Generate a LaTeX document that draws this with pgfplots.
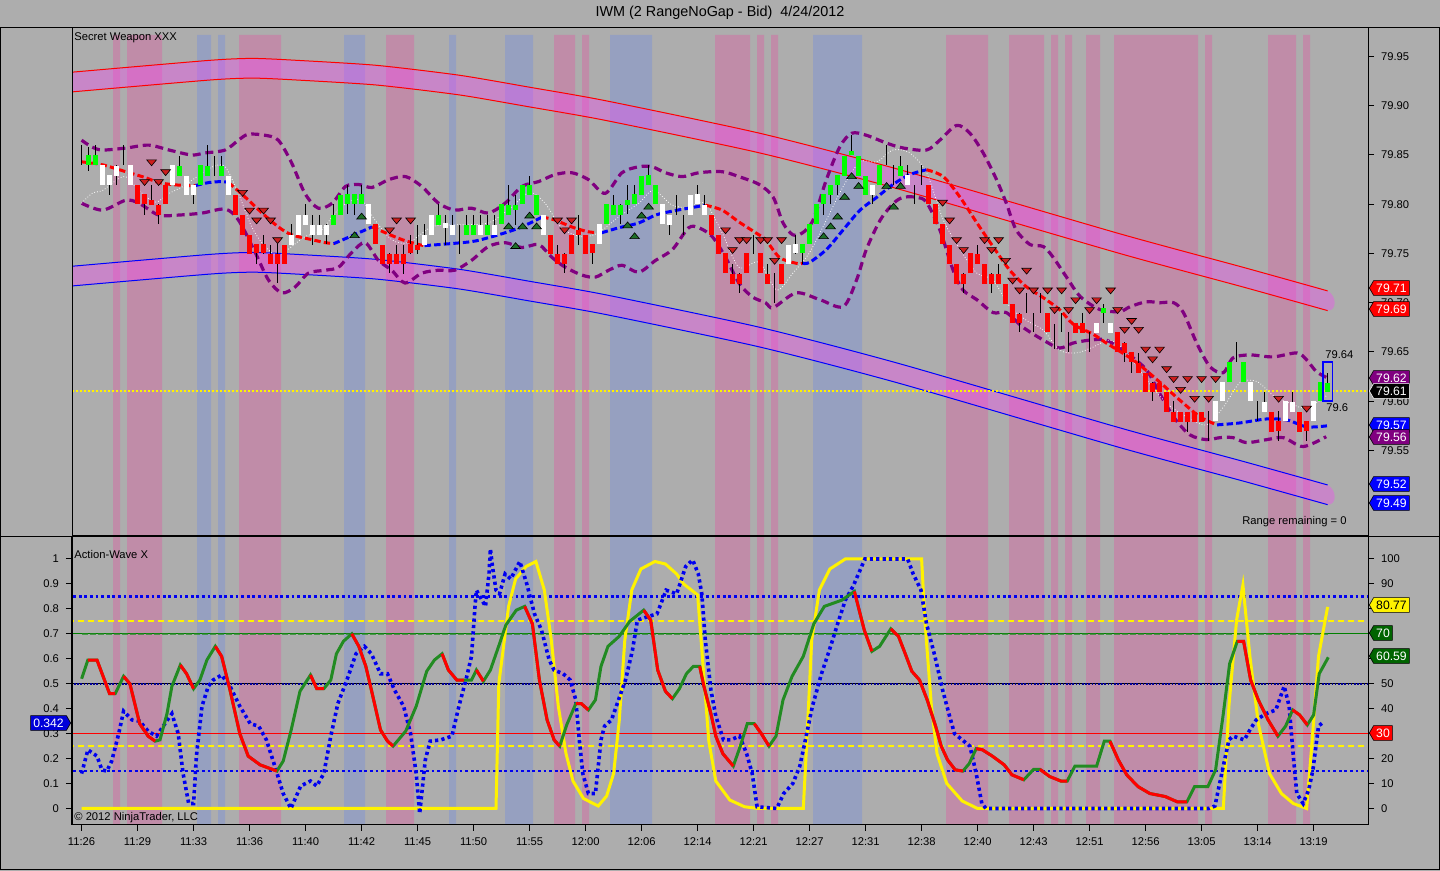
\documentclass[border=0pt]{standalone}
\usepackage{fontspec}
\setmainfont{Liberation Sans}
\usepackage{pgfplots}
\pgfplotsset{compat=1.18}
\usepackage{pgfplotstable}
\usetikzlibrary{shapes.symbols}
\newcommand{\fs}{\fontsize{5.6}{6.5}\selectfont}
\definecolor{bggray}{RGB}{173,173,173}
\definecolor{pinkband}{RGB}{192,140,168}
\definecolor{blueband}{RGB}{150,160,192}
\definecolor{chfill}{RGB}{255,60,255}
\definecolor{pgreen}{RGB}{0,255,0}
\definecolor{envpurple}{RGB}{128,0,128}
\definecolor{trired}{RGB}{205,30,30}
\definecolor{trigreen}{RGB}{30,110,40}
\definecolor{oscgreen}{RGB}{34,139,34}
\definecolor{taggreen}{RGB}{0,100,0}
\definecolor{oscblue}{RGB}{0,0,240}

\pgfplotstableread{
x y
4.5 0
4.5 1
5.5 0
6.5 1
11.5 0
22.5 1
28.5 0
43.5 1
47.5 0
67.5 1
70.5 0
71.5 1
72.5 0
90.5 1
95.5 0
96.5 1
97.5 0
98.5 1
99.5 0
123.5 1
129.5 0
132.5 1
137.5 0
138.5 1
139.5 0
140.5 1
141.5 0
143.5 1
145.5 0
147.5 1
159.5 0
160.5 1
161.5 0
169.5 1
173.5 0
174.5 1
175.5 0
}\pinkbands

\pgfplotstableread{
x y
16.5 0
16.5 1
18.5 0
19.5 1
20.5 0
37.5 1
40.5 0
52.5 1
53.5 0
60.5 1
64.5 0
75.5 1
81.5 0
104.5 1
111.5 0
}\bluebands

% channel edges: index, top edge, bottom edge
\pgfplotstableread{
i t b
-1.4 79.934 79.914
18.2 79.946 79.926
24.5 79.948 79.928
30.9 79.946 79.926
42.1 79.941 79.921
53.9 79.931 79.911
63.8 79.919 79.899
74.9 79.905 79.885
96.9 79.872 79.852
116.9 79.835 79.815
148.3 79.770 79.750
165.9 79.736 79.716
178 79.712 79.692
}\uch
\pgfplotstableread{
i t b
-1.4 79.737 79.717
18.2 79.749 79.729
24.5 79.751 79.731
30.9 79.749 79.729
42.1 79.744 79.724
53.9 79.734 79.714
63.8 79.722 79.702
74.9 79.708 79.688
96.9 79.675 79.655
116.9 79.638 79.618
148.3 79.573 79.553
165.9 79.539 79.519
178 79.515 79.495
}\lch

\pgfplotstableread{
i L H B T c
0 79.84 79.86 79.85 79.85 1
1 79.835 79.86 79.84 79.85 0
2 79.84 79.86 79.84 79.85 0
3 79.82 79.84 79.82 79.84 1
4 79.81 79.83 79.82 79.83 1
5 79.82 79.84 79.83 79.84 1
6 79.84 79.86 79.845 79.845 1
7 79.82 79.84 79.82 79.84 1
8 79.80 79.82 79.80 79.82 2
9 79.79 79.81 79.80 79.81 2
10 79.80 79.82 79.80 79.805 2
11 79.78 79.80 79.79 79.80 2
12 79.80 79.82 79.80 79.82 2
13 79.82 79.84 79.82 79.84 1
14 79.83 79.85 79.83 79.84 0
15 79.81 79.83 79.81 79.83 1
16 79.80 79.82 79.81 79.82 1
17 79.82 79.84 79.82 79.84 0
18 79.83 79.86 79.83 79.84 0
19 79.83 79.85 79.835 79.835 0
20 79.83 79.85 79.83 79.84 0
21 79.81 79.83 79.81 79.83 1
22 79.79 79.81 79.79 79.81 2
23 79.77 79.79 79.77 79.79 2
24 79.75 79.77 79.75 79.77 2
25 79.74 79.76 79.75 79.76 2
26 79.75 79.77 79.75 79.76 2
27 79.74 79.76 79.74 79.75 2
28 79.72 79.76 79.74 79.75 2
29 79.74 79.76 79.74 79.76 2
30 79.76 79.78 79.76 79.77 1
31 79.77 79.79 79.77 79.79 1
32 79.78 79.80 79.78 79.79 1
33 79.76 79.79 79.77 79.78 1
34 79.77 79.79 79.77 79.78 1
35 79.76 79.78 79.77 79.78 1
36 79.78 79.80 79.78 79.79 0
37 79.79 79.81 79.79 79.81 0
38 79.79 79.82 79.80 79.81 0
39 79.79 79.81 79.80 79.81 0
40 79.80 79.82 79.80 79.81 0
41 79.78 79.80 79.78 79.80 1
42 79.76 79.78 79.76 79.78 2
43 79.74 79.76 79.74 79.76 2
44 79.73 79.75 79.74 79.75 2
45 79.74 79.76 79.74 79.75 2
46 79.73 79.76 79.74 79.75 2
47 79.75 79.77 79.75 79.76 2
48 79.75 79.78 79.755 79.76 2
49 79.76 79.78 79.76 79.77 1
50 79.77 79.79 79.77 79.79 1
51 79.78 79.80 79.78 79.79 0
52 79.76 79.79 79.775 79.78 1
53 79.77 79.79 79.77 79.78 1
54 79.75 79.78 79.77 79.77 1
55 79.77 79.79 79.77 79.78 0
56 79.77 79.79 79.77 79.78 0
57 79.77 79.79 79.77 79.78 1
58 79.77 79.79 79.77 79.78 0
59 79.77 79.79 79.77 79.78 1
60 79.78 79.80 79.78 79.80 0
61 79.79 79.82 79.79 79.80 0
62 79.78 79.81 79.795 79.80 0
63 79.80 79.82 79.80 79.82 0
64 79.81 79.83 79.81 79.82 0
65 79.79 79.81 79.79 79.81 0
66 79.77 79.79 79.77 79.79 1
67 79.75 79.77 79.75 79.77 2
68 79.74 79.76 79.74 79.75 2
69 79.73 79.75 79.74 79.75 2
70 79.75 79.77 79.75 79.77 2
71 79.76 79.79 79.77 79.775 2
72 79.75 79.77 79.75 79.77 2
73 79.74 79.76 79.75 79.76 2
74 79.76 79.78 79.76 79.78 1
75 79.78 79.80 79.78 79.80 0
76 79.79 79.81 79.79 79.80 0
77 79.78 79.80 79.79 79.80 0
78 79.79 79.82 79.80 79.805 0
79 79.80 79.82 79.80 79.81 0
80 79.81 79.83 79.81 79.83 0
81 79.82 79.84 79.82 79.83 0
82 79.80 79.82 79.80 79.82 0
83 79.78 79.80 79.78 79.80 1
84 79.77 79.79 79.78 79.79 1
85 79.79 79.81 79.80 79.80 1
86 79.77 79.79 79.78 79.78 1
87 79.79 79.81 79.79 79.81 1
88 79.80 79.82 79.80 79.81 1
89 79.79 79.81 79.79 79.80 1
90 79.77 79.79 79.77 79.79 2
91 79.75 79.77 79.75 79.77 2
92 79.73 79.75 79.73 79.75 2
93 79.72 79.74 79.72 79.73 2
94 79.71 79.73 79.72 79.73 2
95 79.73 79.75 79.73 79.75 2
96 79.75 79.77 79.76 79.76 2
97 79.73 79.75 79.73 79.75 2
98 79.72 79.74 79.72 79.73 2
99 79.70 79.73 79.72 79.72 2
100 79.72 79.74 79.72 79.74 2
101 79.74 79.76 79.74 79.76 1
102 79.75 79.77 79.75 79.76 1
103 79.74 79.76 79.75 79.76 0
104 79.76 79.78 79.76 79.78 0
105 79.78 79.80 79.78 79.80 0
106 79.79 79.81 79.80 79.81 0
107 79.80 79.82 79.81 79.82 0
108 79.81 79.83 79.82 79.83 0
109 79.83 79.85 79.83 79.85 0
110 79.85 79.87 79.85 79.855 0
111 79.83 79.85 79.83 79.85 0
112 79.81 79.83 79.81 79.83 0
113 79.80 79.82 79.81 79.82 1
114 79.82 79.84 79.82 79.84 0
115 79.84 79.86 79.845 79.845 0
116 79.82 79.84 79.83 79.83 0
117 79.83 79.85 79.83 79.84 0
118 79.82 79.84 79.82 79.83 1
119 79.80 79.82 79.81 79.81 1
120 79.82 79.84 79.83 79.83 1
121 79.80 79.82 79.80 79.82 2
122 79.78 79.80 79.78 79.80 2
123 79.76 79.78 79.76 79.78 2
124 79.74 79.76 79.74 79.76 2
125 79.72 79.74 79.72 79.74 2
126 79.71 79.73 79.72 79.73 2
127 79.73 79.75 79.73 79.75 2
128 79.74 79.76 79.74 79.75 2
129 79.72 79.74 79.72 79.74 2
130 79.71 79.73 79.72 79.73 2
131 79.72 79.74 79.72 79.73 2
132 79.70 79.72 79.70 79.72 2
133 79.68 79.70 79.68 79.70 2
134 79.67 79.69 79.68 79.69 2
135 79.69 79.71 79.70 79.70 2
136 79.67 79.69 79.68 79.68 2
137 79.69 79.71 79.70 79.70 2
138 79.67 79.69 79.67 79.69 2
139 79.655 79.68 79.665 79.665 2
140 79.67 79.69 79.68 79.68 2
141 79.65 79.67 79.66 79.66 2
142 79.67 79.68 79.67 79.68 2
143 79.67 79.69 79.67 79.68 2
144 79.65 79.67 79.66 79.66 2
145 79.67 79.68 79.67 79.68 1
146 79.68 79.70 79.69 79.695 0
147 79.67 79.68 79.67 79.68 1
148 79.65 79.67 79.65 79.67 2
149 79.64 79.66 79.65 79.66 2
150 79.63 79.65 79.64 79.65 2
151 79.63 79.65 79.63 79.64 2
152 79.61 79.63 79.61 79.63 2
153 79.60 79.62 79.61 79.62 2
154 79.61 79.62 79.61 79.62 2
155 79.59 79.61 79.59 79.61 2
156 79.58 79.60 79.58 79.59 2
157 79.58 79.59 79.58 79.59 2
158 79.57 79.59 79.58 79.59 2
159 79.58 79.59 79.58 79.59 2
160 79.58 79.59 79.58 79.59 2
161 79.56 79.59 79.575 79.575 2
162 79.58 79.60 79.58 79.60 1
163 79.60 79.62 79.60 79.62 1
164 79.62 79.64 79.62 79.64 0
165 79.64 79.66 79.645 79.645 0
166 79.62 79.64 79.62 79.64 0
167 79.60 79.62 79.60 79.62 1
168 79.58 79.60 79.59 79.59 1
169 79.59 79.61 79.59 79.60 1
170 79.57 79.59 79.57 79.59 2
171 79.56 79.59 79.57 79.58 2
172 79.58 79.60 79.58 79.60 1
173 79.59 79.61 79.59 79.60 1
174 79.57 79.59 79.57 79.59 2
175 79.56 79.58 79.57 79.58 2
176 79.58 79.60 79.58 79.60 1
177 79.60 79.62 79.60 79.62 0
178 79.61 79.63 79.61 79.62 0
}\bars

\pgfplotstableread{
i p
9 79.823
10 79.843
11 79.823
12 79.833
23 79.812
24 79.794
25 79.784
26 79.794
27 79.784
28 79.764
44 79.774
45 79.784
47 79.784
68 79.784
69 79.774
70 79.784
92 79.774
93 79.754
94 79.764
95 79.764
97 79.764
98 79.764
99 79.743
100 79.764
123 79.802
124 79.784
125 79.764
126 79.754
129 79.764
130 79.754
131 79.764
132 79.743
133 79.723
134 79.713
135 79.733
136 79.713
138 79.713
139 79.693
140 79.713
141 79.693
142 79.703
144 79.693
145 79.703
147 79.713
148 79.693
149 79.673
150 79.682
151 79.673
152 79.653
153 79.643
154 79.653
155 79.633
156 79.623
157 79.612
158 79.623
159 79.603
160 79.623
161 79.603
162 79.623
171 79.603
175 79.593
}\redtri

\pgfplotstableread{
i p
39 79.768
40 79.787
61 79.777
62 79.757
63 79.777
64 79.788
65 79.777
78 79.778
79 79.767
80 79.788
81 79.797
106 79.767
107 79.777
108 79.787
109 79.807
110 79.828
111 79.818
115 79.818
116 79.797
117 79.818
}\greentri

\tikzset{
  ma red/.style={red, line width=1.5pt, dash pattern=on 3.2pt off 1.6pt, smooth, tension=0.5},
  ma blue/.style={blue, line width=1.5pt, dash pattern=on 3.2pt off 1.6pt, smooth, tension=0.5},
  env/.style={envpurple, line width=1.6pt, dash pattern=on 4pt off 2.4pt, smooth, tension=0.5},
  oscred/.style={red, line width=1.5pt},
  tag/.style={signal, signal to=west, signal pointer angle=120, draw=black, line width=0.3pt,
    inner xsep=1.3pt, inner ysep=0.8pt, minimum height=7.4pt, font=\fontsize{6.1}{6.1}\selectfont, anchor=west},
}

\begin{document}
\begin{tikzpicture}
\fill[bggray] (0,0) rectangle (720pt,435.5pt);

\begin{axis}[
  at={(36pt,167.5pt)}, anchor=south west, scale only axis,
  width=648pt, height=254pt,
  xmin=-1.371, xmax=183.77, ymin=79.4632, ymax=79.9789,
  xtick=\empty,
  ytick={79.55,79.6,79.65,79.7,79.75,79.8,79.85,79.9,79.95},
  yticklabels={79.55,79.60,79.65,79.70,79.75,79.80,79.85,79.90,79.95},
  ytick pos=right, yticklabel pos=right,
  tick align=outside, major tick length=3pt,
  tick style={black, line width=0.5pt},
  axis line style={black, line width=0.5pt},
  tick label style={font=\fs, black},
  axis on top,
]
\addplot[const plot, fill=pinkband, draw=none] table[x=x, y expr=79.40+0.572*\thisrow{y}] {\pinkbands} -- cycle;
\addplot[const plot, fill=blueband, draw=none] table[x=x, y expr=79.40+0.572*\thisrow{y}] {\bluebands} -- cycle;

% regression channels: filled polygons, then edges
\addplot[fill=chfill, fill opacity=0.34, draw=none, smooth, tension=0.4] coordinates {(-1.4,79.934) (18.2,79.946) (24.5,79.948) (30.9,79.946) (42.1,79.941) (53.9,79.931) (63.8,79.919) (74.9,79.905) (96.9,79.872) (116.9,79.835) (148.3,79.770) (165.9,79.736) (178,79.712) (178,79.692) (165.9,79.716) (148.3,79.750) (116.9,79.815) (96.9,79.852) (74.9,79.885) (63.8,79.899) (53.9,79.911) (42.1,79.921) (30.9,79.926) (24.5,79.928) (18.2,79.926) (-1.4,79.914)} -- cycle;
\addplot[fill=chfill, fill opacity=0.34, draw=none, smooth, tension=0.4] coordinates {(-1.4,79.737) (18.2,79.749) (24.5,79.751) (30.9,79.749) (42.1,79.744) (53.9,79.734) (63.8,79.722) (74.9,79.708) (96.9,79.675) (116.9,79.638) (148.3,79.573) (165.9,79.539) (178,79.515) (178,79.495) (165.9,79.519) (148.3,79.553) (116.9,79.618) (96.9,79.655) (74.9,79.688) (63.8,79.702) (53.9,79.714) (42.1,79.724) (30.9,79.729) (24.5,79.731) (18.2,79.729) (-1.4,79.717)} -- cycle;
\addplot[red, line width=0.5pt, smooth, tension=0.4] table[x=i, y=t] {\uch};
\addplot[red, line width=0.5pt, smooth, tension=0.4] table[x=i, y=b] {\uch};
\addplot[blue, line width=0.5pt, smooth, tension=0.4] table[x=i, y=t] {\lch};
\addplot[blue, line width=0.5pt, smooth, tension=0.4] table[x=i, y=b] {\lch};

\addplot[yellow, line width=1pt, dash pattern=on 1pt off 1pt] coordinates {(-2,79.61) (185,79.61)};

\addplot[env] coordinates {(0,79.865) (1.5,79.858) (3,79.855) (6.3,79.857) (9.6,79.860) (12.5,79.855) (15.7,79.850) (17.6,79.852) (20.5,79.855) (22.4,79.865) (23.8,79.871) (26.2,79.870) (28.1,79.865) (30,79.842) (31.9,79.811) (33.8,79.796) (35.8,79.801) (37.7,79.818) (39.6,79.820) (41.5,79.817) (43.9,79.825) (46.3,79.828) (48.6,79.818) (51,79.801) (53.3,79.794) (55.7,79.796) (58.1,79.791) (60.5,79.801) (62.9,79.818) (65.3,79.823) (67.6,79.830) (70,79.832) (72.4,79.825) (74.8,79.811) (77.2,79.832) (79.6,79.838) (81.5,79.838) (83.4,79.832) (85.8,79.828) (88.2,79.832) (91.5,79.833) (93.9,79.828) (96.8,79.820) (98.8,79.807) (100.2,79.781) (101.6,79.769) (103,79.771) (104.5,79.784) (106.4,79.825) (108.3,79.858) (110,79.872) (112.1,79.870) (115,79.862) (117.4,79.857) (120.7,79.855) (122.6,79.865) (125,79.880) (126.9,79.872) (128.8,79.852) (130.7,79.825) (132.1,79.801) (133.5,79.774) (135.5,79.759) (137.4,79.757) (138.8,79.746) (140.7,79.726) (142.7,79.706) (145.5,79.693) (148.3,79.691) (149.8,79.696) (152.1,79.701) (154,79.700) (156,79.700) (157.4,79.690) (159.3,79.659) (161.2,79.635) (163.1,79.629) (164.5,79.644) (166.9,79.647) (170.2,79.645) (173.6,79.649) (175,79.642) (176.4,79.630) (177.9,79.624)};
\addplot[env] coordinates {(0,79.801) (3,79.794) (6.3,79.804) (8.2,79.801) (11,79.789) (13.9,79.789) (17.2,79.791) (20.5,79.795) (22.4,79.784) (24.8,79.751) (26.7,79.723) (28.6,79.710) (30.5,79.716) (32.4,79.730) (34.8,79.733) (36.7,79.736) (38.6,79.751) (40.5,79.761) (42.4,79.743) (44.3,79.733) (46.2,79.720) (48.6,79.730) (51,79.733) (53.3,79.733) (55.7,79.743) (58.1,79.757) (60.5,79.761) (62.9,79.756) (65.3,79.759) (67.2,79.746) (69.1,79.736) (71.5,79.728) (73.4,79.726) (75.3,79.733) (77.2,79.738) (79.6,79.731) (82,79.743) (84.4,79.754) (86.7,79.776) (88.2,79.776) (90.1,79.767) (92,79.746) (93.9,79.720) (95.8,79.706) (97.7,79.700) (98.8,79.695) (102.1,79.710) (105.5,79.703) (108.8,79.696) (110.7,79.723) (112.1,79.754) (114.1,79.784) (116,79.801) (117.4,79.807) (119.3,79.807) (120.7,79.802) (122.6,79.774) (124.5,79.733) (125.9,79.713) (127.9,79.703) (130.2,79.690) (132.1,79.690) (134.5,79.675) (137.4,79.662) (139.7,79.654) (141.6,79.659) (144,79.662) (146.4,79.662) (149.3,79.649) (152.1,79.632) (154,79.608) (156,79.584) (158.3,79.566) (160.7,79.561) (162.6,79.563) (164.5,79.563) (166.4,79.558) (169.3,79.561) (171.7,79.563) (174.5,79.554) (177.8,79.564)};

\addplot[white, line width=0.4pt, densely dotted, smooth, tension=0.5] coordinates {(0,79.801) (1.5,79.811) (3,79.814) (4.7,79.823) (6.3,79.828) (8.2,79.814) (10.5,79.802) (12.5,79.811) (14.5,79.818) (16.3,79.827) (18.7,79.838) (20.5,79.838) (22.4,79.811) (24.3,79.777) (26.2,79.757) (28.1,79.748) (30,79.757) (31.9,79.767) (34.3,79.774) (36.2,79.791) (38.1,79.802) (40,79.804) (41.9,79.784) (44.3,79.764) (46.7,79.761) (50,79.777) (53.3,79.779) (58.1,79.781) (61.4,79.797) (64,79.812) (66.2,79.801) (68.6,79.776) (71.4,79.767) (73.8,79.771) (76.7,79.787) (79.6,79.801) (81.7,79.814) (84.4,79.799) (86.7,79.797) (89.1,79.801) (91.5,79.771) (93.9,79.736) (96.8,79.741) (99.3,79.713) (101.6,79.730) (104,79.751) (106.4,79.784) (108.8,79.818) (111.2,79.843) (113.6,79.843) (115.9,79.855) (118.3,79.852) (120.7,79.832) (123.1,79.784) (125.5,79.754) (127.9,79.730) (130.2,79.723) (132.6,79.696) (135,79.682) (137.4,79.672) (139.7,79.652) (142.1,79.649) (144.5,79.655) (146.9,79.662) (149.3,79.649) (152.1,79.622) (155,79.598) (157.9,79.584) (160.7,79.576) (163.1,79.594) (165.5,79.619) (167.9,79.620) (170.2,79.606) (172.6,79.598) (175,79.593) (177.9,79.606)};

\addplot[ma red] coordinates {(0,79.843) (3,79.840) (6.3,79.833) (9.1,79.827) (11,79.822) (12.9,79.820) (14.8,79.819) (16.3,79.819)};
\addplot[ma blue] coordinates {(16.3,79.819) (18.2,79.822) (20.1,79.823) (21,79.822)};
\addplot[ma red] coordinates {(21,79.822) (23.4,79.807) (25.8,79.791) (28.1,79.777) (30,79.769) (32.9,79.764) (34.8,79.761) (36,79.760)};
\addplot[ma blue] coordinates {(36,79.760) (36.7,79.762) (39.6,79.771) (41.5,79.777)};
\addplot[ma red] coordinates {(41.5,79.777) (43.4,79.771) (45.8,79.764) (48.2,79.759) (49,79.758)};
\addplot[ma blue] coordinates {(49,79.758) (51,79.759) (55.7,79.762) (58.1,79.766) (60.5,79.771) (62.9,79.777) (65.8,79.787)};
\addplot[ma red] coordinates {(65.8,79.787) (67.6,79.784) (70,79.777) (72.4,79.772) (74.3,79.771)};
\addplot[ma blue] coordinates {(74.3,79.771) (76.7,79.776) (79.6,79.781) (82,79.789) (84.4,79.793) (86.7,79.796) (89.1,79.799)};
\addplot[ma red] coordinates {(89.1,79.799) (91.5,79.794) (93.9,79.782) (96.3,79.771) (97.7,79.764) (99.7,79.746) (102.1,79.740) (103,79.740)};
\addplot[ma blue] coordinates {(103,79.740) (104,79.741) (106.4,79.754) (108.8,79.774) (111.2,79.794) (113.6,79.807) (115.9,79.820) (118.3,79.830) (120.7,79.835)};
\addplot[ma red] coordinates {(120.7,79.835) (123.1,79.828) (125.5,79.807) (127.9,79.781) (130.2,79.757) (132.6,79.733) (135,79.716) (137.4,79.705) (139.7,79.693) (141.7,79.678) (144.5,79.668) (146.4,79.659) (150.2,79.642) (153.6,79.622) (156.9,79.601) (159.8,79.584) (162.2,79.576)};
\addplot[ma blue] coordinates {(162.2,79.576) (165.5,79.578) (169.3,79.582) (172.2,79.581) (175,79.574) (177.9,79.575)};

\addplot[draw=none, mark=none, error bars/.cd, y dir=both, y explicit, error mark=none,
  error bar style={draw=black, line width=0.5pt, solid}]
  table[x=i, y expr=(\thisrow{L}+\thisrow{H})/2, y error expr=(\thisrow{H}-\thisrow{L})/2] {\bars};
\addplot[draw=none, mark=none, restrict expr to domain={\thisrow{c}}{0:0}, error bars/.cd, y dir=both, y explicit, error mark=none,
  error bar style={draw=pgreen, line width=2.4pt, solid}]
  table[x=i, y expr=(\thisrow{B}+\thisrow{T})/2, y error expr=(\thisrow{T}-\thisrow{B})/2] {\bars};
\addplot[draw=none, mark=none, restrict expr to domain={\thisrow{c}}{1:1}, error bars/.cd, y dir=both, y explicit, error mark=none,
  error bar style={draw=white, line width=2.4pt, solid}]
  table[x=i, y expr=(\thisrow{B}+\thisrow{T})/2, y error expr=(\thisrow{T}-\thisrow{B})/2] {\bars};
\addplot[draw=none, mark=none, restrict expr to domain={\thisrow{c}}{2:2}, error bars/.cd, y dir=both, y explicit, error mark=none,
  error bar style={draw=red, line width=2.4pt, solid}]
  table[x=i, y expr=(\thisrow{B}+\thisrow{T})/2, y error expr=(\thisrow{T}-\thisrow{B})/2] {\bars};

\addplot[only marks, mark=triangle*, mark size=2.8pt, mark options={rotate=180, yscale=0.7, fill=trired, draw=black, line width=0.3pt, solid}] table[x=i, y=p] {\redtri};
\addplot[only marks, mark=triangle*, mark size=2.8pt, mark options={yscale=0.7, fill=trigreen, draw=black, line width=0.3pt, solid}] table[x=i, y=p] {\greentri};

\draw[blue, line width=0.9pt] (axis cs:177.3,79.60) rectangle (axis cs:178.7,79.64);
\end{axis}

\begin{axis}[
  at={(36pt,23pt)}, anchor=south west, scale only axis,
  width=648pt, height=144pt,
  xmin=-1.371, xmax=183.77, ymin=-0.0661, ymax=1.0882,
  xtick={0,8,...,176},
  xticklabels={11:26,11:29,11:33,11:36,11:40,11:42,11:45,11:50,11:55,12:00,12:06,12:14,12:21,12:27,12:31,12:38,12:40,12:43,12:51,12:56,13:05,13:14,13:19},
  ytick={0,0.1,0.2,0.3,0.4,0.5,0.6,0.7,0.8,0.9,1},
  yticklabels={0,0.1,0.2,0.3,0.4,0.5,0.6,0.7,0.8,0.9,1},
  xtick pos=left, ytick pos=left,
  tick align=outside, major tick length=3pt,
  tick style={black, line width=0.5pt},
  axis line style={black, line width=0.5pt},
  tick label style={font=\fs, black},
  axis on top,
]
\addplot[const plot, fill=pinkband, draw=none] table[x=x, y expr=-0.2+1.4*\thisrow{y}] {\pinkbands} -- cycle;
\addplot[const plot, fill=blueband, draw=none] table[x=x, y expr=-0.2+1.4*\thisrow{y}] {\bluebands} -- cycle;

\addplot[oscblue, line width=1.4pt, dash pattern=on 1.4pt off 1.4pt] coordinates {(-2,0.85) (185,0.85)};
\addplot[oscblue, line width=1.4pt, dash pattern=on 1.4pt off 1.4pt] coordinates {(-2,0.15) (185,0.15)};
\addplot[yellow, line width=1pt, dash pattern=on 3pt off 2pt] coordinates {(-2,0.75) (185,0.75)};
\addplot[yellow, line width=1pt, dash pattern=on 3pt off 2pt] coordinates {(-2,0.25) (185,0.25)};
\addplot[green!50!black, line width=0.5pt] coordinates {(-2,0.70) (185,0.70)};
\addplot[oscgreen, line width=1.1pt, dash pattern=on 3pt off 1pt, opacity=0.7] coordinates {(0,0.70) (178,0.70)};
\addplot[black, line width=0.4pt] coordinates {(-2,0.5) (185,0.5)};
\addplot[blue!60!black, line width=0.8pt, dash pattern=on 0.8pt off 0.8pt] coordinates {(-2,0.5) (185,0.5)};
\addplot[red, line width=0.6pt] coordinates {(-2,0.30) (185,0.30)};

\addplot[yellow, line width=1.5pt] coordinates {(0,0) (59.2,0) (59.6,0.5) (61,0.81) (62,0.92) (63.5,0.97) (64.9,0.99) (66.1,0.876) (67.1,0.675) (68.1,0.41) (69.2,0.22) (70.2,0.11) (71.7,0.04) (73.8,0.01) (75.0,0.05) (76.0,0.14) (76.8,0.35) (77.6,0.675) (78.6,0.876) (79.9,0.96) (81.9,0.99) (83.4,0.98) (85.0,0.94) (86.0,0.90) (88.0,0.856) (88.5,0.675) (89.6,0.27) (90.6,0.11) (92.6,0.034) (94.7,0.007) (96.7,0) (103.1,0) (103.6,0.27) (104.3,0.675) (105.4,0.876) (106.9,0.96) (109.1,1.0) (120.0,1.0) (120.5,0.74) (121.4,0.41) (122.2,0.22) (123.6,0.10) (125.8,0.03) (128.0,0) (163.1,0) (163.9,0.41) (165.0,0.756) (165.9,0.896) (166.9,0.61) (168.1,0.34) (169.7,0.14) (171.4,0.06) (173.1,0.02) (175.0,0) (175.8,0.275) (176.7,0.61) (178.0,0.8077)};

\addplot[oscblue, line width=1.8pt, dash pattern=on 1.6pt off 1.6pt] coordinates {(0,0.14) (0.9,0.235) (2.2,0.21) (2.9,0.155) (3.6,0.15) (4.3,0.19) (5.3,0.30) (6.0,0.39) (7.2,0.355) (8.3,0.35) (9.5,0.31) (10.7,0.29) (11.9,0.34) (12.9,0.38) (13.8,0.30) (14.5,0.14) (15.3,0.02) (16.0,0.02) (16.4,0.21) (17.2,0.41) (18.1,0.49) (18.8,0.515) (20.0,0.535) (21.2,0.49) (22.6,0.41) (24.1,0.34) (25.3,0.33) (26.4,0.275) (27.6,0.17) (28.8,0.06) (29.9,0.0) (31.3,0.09) (32.7,0.11) (33.6,0.09) (34.6,0.14) (35.6,0.29) (36.6,0.42) (37.9,0.515) (39.2,0.62) (40.4,0.65) (41.4,0.62) (42.7,0.54) (43.7,0.54) (44.7,0.475) (46.0,0.41) (47.0,0.30) (47.8,0.14) (48.3,-0.02) (49.1,0.195) (49.8,0.27) (51.3,0.275) (52.9,0.29) (53.9,0.41) (54.9,0.515) (55.7,0.61) (56.2,0.81) (56.4,0.875) (57.2,0.835) (57.7,0.81) (58.2,0.94) (58.4,1.04) (58.7,0.97) (59.2,0.875) (59.7,0.86) (60.5,0.94) (61.3,0.92) (62.6,0.99) (63.6,0.90) (64.7,0.78) (65.7,0.715) (66.8,0.595) (67.5,0.555) (68.8,0.54) (69.8,0.515) (70.6,0.435) (71.1,0.275) (71.6,0.14) (72.4,0.06) (73.4,0.06) (74.2,0.275) (74.7,0.33) (75.7,0.355) (76.7,0.435) (77.7,0.515) (78.7,0.635) (79.4,0.755) (81.0,0.77) (82.2,0.78) (83.5,0.875) (85.0,0.86) (86.3,0.97) (87.3,0.996) (88.1,0.94) (88.6,0.86) (89.1,0.675) (89.9,0.475) (90.6,0.37) (91.7,0.275) (92.7,0.275) (94.0,0.29) (95.0,0.22) (95.8,0.14) (96.5,0.007) (99.3,0.0) (100.3,0.06) (101.6,0.10) (102.6,0.17) (103.4,0.275) (104.4,0.41) (105.7,0.54) (107.0,0.65) (108.0,0.74) (109.1,0.835) (110.2,0.89) (111.9,1.0) (118.0,1.0) (118.8,0.94) (119.9,0.876) (120.7,0.74) (121.9,0.61) (123.0,0.475) (123.9,0.38) (124.7,0.30) (125.8,0.275) (126.9,0.25) (127.8,0.14) (128.6,0.02) (129.2,0.0) (161.0,0.0) (161.9,0.01) (163.1,0.17) (163.9,0.275) (164.5,0.29) (166.1,0.275) (166.9,0.315) (167.8,0.355) (169.2,0.38) (170.6,0.395) (171.8,0.49) (172.5,0.41) (173.1,0.21) (173.6,0.06) (174.5,0.02) (175.3,0.075) (175.9,0.155) (176.7,0.33) (177.2,0.342)};

\addplot[oscgreen, line width=1.5pt] coordinates {(0,0.52) (0.9,0.595) (2.2,0.595) (4.0,0.46) (4.8,0.46) (6.0,0.53) (6.9,0.50) (8.3,0.34) (9.5,0.29) (10.5,0.27) (11.2,0.275) (12.2,0.38) (12.9,0.49) (14.1,0.575) (15.0,0.54) (16.0,0.48) (16.9,0.515) (17.9,0.595) (19.1,0.65) (20.0,0.61) (21.2,0.475) (22.6,0.30) (23.8,0.21) (25.5,0.175) (27.9,0.15) (28.8,0.19) (29.9,0.31) (31.2,0.47) (32.7,0.535) (33.6,0.48) (34.6,0.48) (35.6,0.515) (36.4,0.62) (37.4,0.67) (38.6,0.70) (39.6,0.65) (40.6,0.57) (41.4,0.475) (42.7,0.315) (43.7,0.27) (44.5,0.25) (46.3,0.31) (47.8,0.41) (49.3,0.55) (50.4,0.595) (51.5,0.62) (52.4,0.555) (53.6,0.515) (54.6,0.515) (55.7,0.515) (56.4,0.555) (57.4,0.51) (58.4,0.555) (59.7,0.66) (60.6,0.735) (62.1,0.795) (63.3,0.81) (64.4,0.74) (65.4,0.515) (66.5,0.355) (67.5,0.275) (68.3,0.25) (69.3,0.335) (70.6,0.42) (71.4,0.42) (72.4,0.395) (73.4,0.435) (74.2,0.57) (75.2,0.65) (76.8,0.69) (78.3,0.75) (80.3,0.795) (81.3,0.755) (82.3,0.555) (83.4,0.47) (84.4,0.44) (85.4,0.48) (86.4,0.54) (87.4,0.57) (88.3,0.57) (88.9,0.49) (89.9,0.38) (90.6,0.29) (91.6,0.22) (93.1,0.17) (94.1,0.25) (95.1,0.34) (96.1,0.34) (97.1,0.30) (98.2,0.25) (99.2,0.29) (100.2,0.435) (101.5,0.53) (103.1,0.61) (104.6,0.74) (106.1,0.81) (108.6,0.835) (110.4,0.87) (111.8,0.716) (112.9,0.63) (114.0,0.65) (115.6,0.72) (116.7,0.69) (117.8,0.61) (118.6,0.55) (119.7,0.515) (120.8,0.435) (122.0,0.33) (122.8,0.25) (123.7,0.195) (124.8,0.155) (125.9,0.15) (126.8,0.18) (127.8,0.24) (128.7,0.235) (130.1,0.21) (131.8,0.175) (132.9,0.135) (134.6,0.115) (136.0,0.157) (136.9,0.157) (138.3,0.128) (139.9,0.11) (140.8,0.11) (141.9,0.17) (145.0,0.17) (146.1,0.27) (146.9,0.27) (148.1,0.195) (149.3,0.135) (150.9,0.088) (152.6,0.06) (154.8,0.048) (156.5,0.027) (157.9,0.027) (159.0,0.088) (160.9,0.088) (162.0,0.155) (163.1,0.38) (164.0,0.58) (165.1,0.67) (166.0,0.67) (167.0,0.515) (168.1,0.435) (169.5,0.355) (170.9,0.29) (172.0,0.33) (173.0,0.395) (174.0,0.375) (175.1,0.335) (176.0,0.375) (176.8,0.54) (178.1,0.606)};
\addplot[oscred] coordinates {(0.9,0.595) (2.2,0.595) (4.0,0.46) (4.8,0.46)};
\addplot[oscred] coordinates {(6.0,0.53) (6.9,0.50) (8.3,0.34) (9.5,0.29) (10.5,0.27)};
\addplot[oscred] coordinates {(14.1,0.575) (15.0,0.54) (16.0,0.48)};
\addplot[oscred] coordinates {(19.1,0.65) (20.0,0.61) (21.2,0.475) (22.6,0.30) (23.8,0.21) (25.5,0.175) (27.9,0.15)};
\addplot[oscred] coordinates {(32.7,0.535) (33.6,0.48) (34.6,0.48)};
\addplot[oscred] coordinates {(38.6,0.70) (39.6,0.65) (40.6,0.57) (41.4,0.475) (42.7,0.315) (43.7,0.27) (44.5,0.25)};
\addplot[oscred] coordinates {(51.5,0.62) (52.4,0.555) (53.6,0.515) (54.6,0.515)};
\addplot[oscred] coordinates {(56.4,0.555) (57.4,0.51)};
\addplot[oscred] coordinates {(63.3,0.81) (64.4,0.74) (65.4,0.515) (66.5,0.355) (67.5,0.275) (68.3,0.25)};
\addplot[oscred] coordinates {(70.6,0.42) (71.4,0.42) (72.4,0.395)};
\addplot[oscred] coordinates {(80.3,0.795) (81.3,0.755) (82.3,0.555) (83.4,0.47) (84.4,0.44)};
\addplot[oscred] coordinates {(88.3,0.57) (88.9,0.49) (89.9,0.38) (90.6,0.29) (91.6,0.22) (93.1,0.17)};
\addplot[oscred] coordinates {(96.1,0.34) (97.1,0.30) (98.2,0.25)};
\addplot[oscred] coordinates {(110.4,0.87) (111.8,0.716) (112.9,0.63)};
\addplot[oscred] coordinates {(115.6,0.72) (116.7,0.69) (117.8,0.61) (118.6,0.55) (119.7,0.515) (120.8,0.435) (122.0,0.33) (122.8,0.25) (123.7,0.195) (124.8,0.155) (125.9,0.15)};
\addplot[oscred] coordinates {(127.8,0.24) (128.7,0.235) (130.1,0.21) (131.8,0.175) (132.9,0.135) (134.6,0.115)};
\addplot[oscred] coordinates {(136.9,0.157) (138.3,0.128) (139.9,0.11) (140.8,0.11)};
\addplot[oscred] coordinates {(146.9,0.27) (148.1,0.195) (149.3,0.135) (150.9,0.088) (152.6,0.06) (154.8,0.048) (156.5,0.027) (157.9,0.027)};
\addplot[oscred] coordinates {(165.1,0.67) (166.0,0.67) (167.0,0.515) (168.1,0.435) (169.5,0.355) (170.9,0.29)};
\addplot[oscred] coordinates {(173.0,0.395) (174.0,0.375) (175.1,0.335)};
\end{axis}

\begin{axis}[
  at={(36pt,23pt)}, anchor=south west, scale only axis,
  width=648pt, height=144pt,
  xmin=-1.371, xmax=183.77, ymin=-6.61, ymax=108.82,
  xtick=\empty,
  ytick={0,10,20,30,40,50,60,70,80,90,100},
  yticklabels={0,10,20,{},40,50,{},{},{},90,100},
  ytick pos=right, yticklabel pos=right,
  tick align=outside, major tick length=3pt,
  tick style={black, line width=0.5pt},
  axis line style={black, line width=0.5pt},
  tick label style={font=\fs, black},
]
\addplot[draw=none, mark=none] coordinates {(0,0) (100,100)};
\end{axis}

\begin{scope}[x=0.5pt, y=-0.5pt, yshift=435.5pt]
\draw[black, line width=0.5pt] (0.5,28) rectangle (1439.5,869.5);
\draw[black, line width=0.5pt] (0,536.5) -- (1440,536.5);
\node[font=\fontsize{7.2}{8}\selectfont] at (720,13) {IWM (2 RangeNoGap - Bid)\ \ 4/24/2012};
\node[anchor=west, font=\fs, inner sep=0pt] at (74,38) {Secret Weapon XXX};
\node[anchor=west, font=\fs, inner sep=0pt] at (74,555) {Action-Wave X};
\node[anchor=west, font=\fs, inner sep=0pt] at (74,818) {© 2012 NinjaTrader, LLC};
\node[anchor=east, font=\fs, inner sep=0pt] at (1347,522) {Range remaining = 0};
\node[anchor=west, font=\fs, inner sep=0pt] at (1325,355) {79.64};
\node[anchor=west, font=\fs, inner sep=0pt] at (1326,408) {79.6};
\node[tag, fill=red, text=white] at (1369,288) {79.71};
\node[tag, fill=red, text=white] at (1369,309) {79.69};
\node[tag, fill=envpurple, text=white] at (1369,378) {79.62};
\node[tag, fill=black, text=white, draw=white] at (1369,391) {79.61};
\node[tag, fill=blue, text=white] at (1369,425) {79.57};
\node[tag, fill=envpurple, text=white] at (1369,437) {79.56};
\node[tag, fill=blue, text=white] at (1369,484) {79.52};
\node[tag, fill=blue, text=white] at (1369,503) {79.49};
\node[tag, fill=yellow, text=black] at (1369,605) {80.77};
\node[tag, fill=taggreen, text=white] at (1369,633) {70};
\node[tag, fill=taggreen, text=white] at (1369,656) {60.59};
\node[tag, fill=red, text=white] at (1369,733) {30};
\node[tag, signal to=east, anchor=east, fill=blue!85!black, text=white] at (71,723) {0.342};
\end{scope}
\pgfresetboundingbox
\path[use as bounding box] (0,0) rectangle (720pt,435.5pt);
\end{tikzpicture}
\end{document}
